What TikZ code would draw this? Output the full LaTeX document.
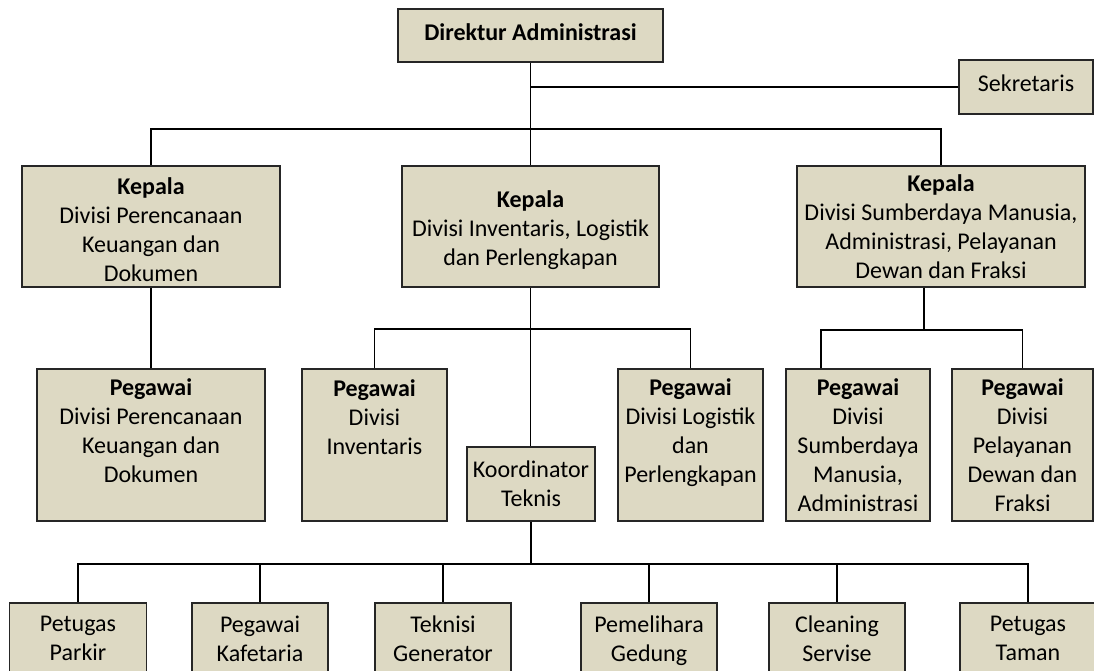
\documentclass[tikz,border=0pt]{standalone}
\usepackage{fontspec}
\setmainfont{Carlito}
\definecolor{tanfill}{HTML}{DDD9C3}
\begin{document}
\begin{tikzpicture}[x=1pt,y=-1pt,
  unit/.style={draw=black!85, fill=tanfill, line width=1.6pt, inner sep=0pt},
  txt/.style={align=center, inner sep=0pt, font=\fontsize{24}{29}\selectfont,
    execute at begin node=\strut, execute at end node=\strut, yshift=-4pt},
  link/.style={line width=1.6pt}]
\useasboundingbox (0,0) rectangle (1094,670);
\clip (0,0) rectangle (1094,670);

% ---- boxes ----
\node[unit, minimum width=265pt, minimum height=53pt]  (dir)  at (530.5,35.5) {};
\node[unit, minimum width=134pt, minimum height=54pt]  (sek)  at (1026,87) {};
\node[unit, minimum width=258pt, minimum height=121pt] (kep1) at (151,226.5) {};
\node[unit, minimum width=257pt, minimum height=121pt] (kep2) at (530.5,226.5) {};
\node[unit, minimum width=288pt, minimum height=121pt] (kep3) at (941,226.5) {};
\node[unit, minimum width=228pt, minimum height=152pt] (peg1) at (151,445) {};
\node[unit, minimum width=145pt, minimum height=152pt] (pinv) at (374.5,445) {};
\node[unit, minimum width=128pt, minimum height=74pt]  (koor) at (531,484) {};
\node[unit, minimum width=145pt, minimum height=152pt] (plog) at (690.5,445) {};
\node[unit, minimum width=144pt, minimum height=152pt] (psdm) at (858,445) {};
\node[unit, minimum width=141pt, minimum height=152pt] (ppel) at (1022.5,445) {};
\node[unit, minimum width=137pt, minimum height=97pt]  (park) at (78,651.5) {};
\node[unit, minimum width=136pt, minimum height=97pt]  (kafe) at (260,651.5) {};
\node[unit, minimum width=136pt, minimum height=97pt]  (tekn) at (443,651.5) {};
\node[unit, minimum width=136pt, minimum height=97pt]  (peml) at (649,651.5) {};
\node[unit, minimum width=136pt, minimum height=97pt]  (clean) at (837,651.5) {};
\node[unit, minimum width=136pt, minimum height=97pt]  (taman) at (1028,651.5) {};

% ---- bus levels ----
\coordinate (busA) at (0,129);
\coordinate (busB) at (0,329);
\coordinate (busC) at (0,330);
\coordinate (busD) at (0,564);
\coordinate (k3out) at ([xshift=-17pt]kep3.south);
\coordinate (sdmin) at ([xshift=-37pt]psdm.north);

% ---- connectors ----
\draw[link] (dir.south) -- (kep2.north);
\draw[link] (dir.south |- sek.west) -- (sek.west);
\draw[link] (kep1.north) -- (kep1.north |- busA) -- (kep3.north |- busA) -- (kep3.north);
\draw[link] (kep1.south) -- (peg1.north);
\draw[link] (kep2.south) -- (kep2.south |- koor.north);
\draw[link] (pinv.north) -- (pinv.north |- busB) -- (plog.north |- busB) -- (plog.north);
\draw[link] (k3out) -- (k3out |- busC);
\draw[link] (sdmin) -- (sdmin |- busC) -- (ppel.north |- busC) -- (ppel.north);
\draw[link] (koor.south) -- (koor.south |- busD);
\draw[link] (park.north) -- (park.north |- busD) -- (taman.north |- busD) -- (taman.north);
\draw[link] (kafe.north) -- (kafe.north |- busD);
\draw[link] (tekn.north) -- (tekn.north |- busD);
\draw[link] (peml.north) -- (peml.north |- busD);
\draw[link] (clean.north) -- (clean.north |- busD);

% ---- labels ----
\node[txt] (tdir) at (530.5,31) {\textbf{Direktur Administrasi}};
\node[txt] (tsek) at (1026,82) {Sekretaris};
\node[txt] (tk1) at (151,229.5) {\textbf{Kepala}\\Divisi Perencanaan\\Keuangan dan\\Dokumen};
\node[txt] (tk2) at (530.5,228.7) {\textbf{Kepala}\\Divisi Inventaris, Logistik\\dan Perlengkapan};
\node[txt] (tk3) at (941,226.6) {\textbf{Kepala}\\Divisi Sumberdaya Manusia,\\Administrasi, Pelayanan\\Dewan dan Fraksi};
\node[txt] (tp1) at (151,430.5) {\textbf{Pegawai}\\Divisi Perencanaan\\Keuangan dan\\Dokumen};
\node[txt] (tpi) at (374.5,417) {\textbf{Pegawai}\\Divisi\\Inventaris};
\node[txt] (tko) at (531,484) {Koordinator\\Teknis};
\node[txt] (tpl) at (690.5,430.5) {\textbf{Pegawai}\\Divisi Logistik\\dan\\Perlengkapan};
\node[txt] (tps) at (858,445) {\textbf{Pegawai}\\Divisi\\Sumberdaya\\Manusia,\\Administrasi};
\node[txt] (tpp) at (1022.5,445) {\textbf{Pegawai}\\Divisi\\Pelayanan\\Dewan dan\\Fraksi};
\node[txt] (tpark) at (78,639) {Petugas\\Parkir};
\node[txt] (tkafe) at (260,639) {Pegawai\\Kafetaria};
\node[txt] (ttekn) at (443,639) {Teknisi\\Generator};
\node[txt] (tpeml) at (649,639) {Pemelihara\\Gedung};
\node[txt] (tclean) at (837,639) {Cleaning\\Servise};
\node[txt] (ttaman) at (1028,639) {Petugas\\Taman};
\end{tikzpicture}
\end{document}
